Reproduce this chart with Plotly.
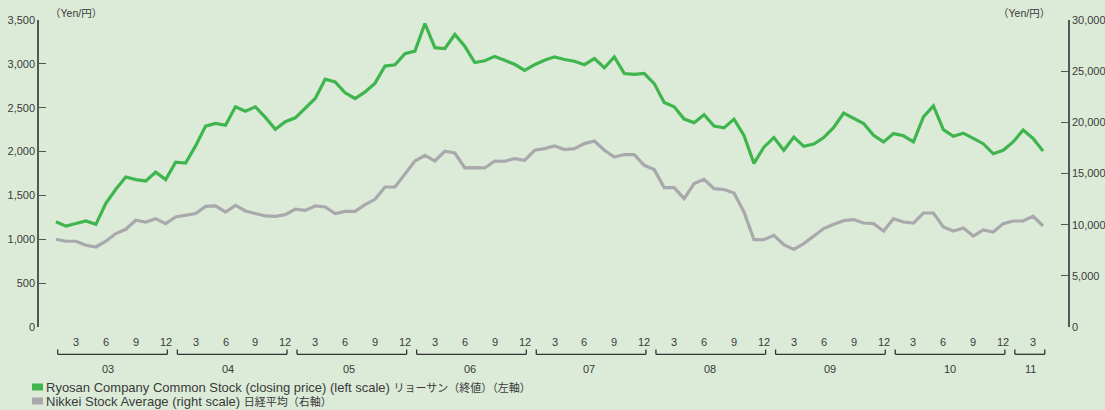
import plotly.graph_objects as go

# ---- data (monthly closes, Dec 2002 .. Mar 2011) ----
ryosan = [1200, 1150, 1180, 1210, 1170, 1410, 1570, 1710, 1680, 1665, 1765, 1680,
          1880, 1870, 2065, 2290, 2320, 2300, 2510, 2460, 2510, 2390, 2255, 2340,
          2385, 2500, 2605, 2825, 2795, 2670, 2605, 2680, 2780, 2975, 2990, 3115,
          3145, 3460, 3185, 3175, 3335, 3200, 3015, 3035, 3085, 3040, 2995, 2925,
          2990, 3040, 3080, 3050, 3030, 2990, 3060, 2955, 3080, 2890, 2880, 2890,
          2775, 2560, 2510, 2370, 2330, 2420, 2290, 2270, 2370, 2185, 1865, 2050,
          2160, 2015, 2165, 2060, 2085, 2160, 2275, 2440, 2380, 2320, 2185, 2110,
          2205, 2180, 2110, 2395, 2520, 2250, 2175, 2210, 2150, 2090, 1975, 2015,
          2110, 2245, 2150, 2005]

nikkei = [8570, 8380, 8380, 7990, 7820, 8380, 9130, 9550, 10430, 10260, 10590, 10100,
          10750, 10920, 11080, 11790, 11830, 11240, 11890, 11340, 11080, 10850, 10820, 10980,
          11520, 11400, 11830, 11730, 11080, 11300, 11300, 11960, 12480, 13680, 13680, 14990,
          16220, 16780, 16220, 17170, 17000, 15540, 15580, 15540, 16220, 16190, 16460, 16290,
          17270, 17430, 17690, 17340, 17430, 17920, 18180, 17270, 16610, 16850, 16850, 15800,
          15380, 13620, 13620, 12550, 14010, 14430, 13520, 13430, 13100, 11240, 8540, 8540,
          8960, 8050, 7590, 8150, 8860, 9620, 10040, 10390, 10500, 10160, 10100, 9380,
          10590, 10260, 10160, 11140, 11140, 9770, 9380, 9680, 8890, 9480, 9280, 10100,
          10360, 10360, 10820, 9870]

month_labels = ["3", "6", "9", "12"]
year_labels = ["03", "04", "05", "06", "07", "08", "09", "10", "11"]
year_label_pos = [5.2, 17.3, 29.4, 41.5, 53.5, 65.6, 77.6, 89.7, 97.7]
left_ticks = [0, 500, 1000, 1500, 2000, 2500, 3000, 3500]
right_ticks = [0, 5000, 10000, 15000, 20000, 25000, 30000]
series_en = ["Ryosan Company Common Stock (closing price) (left scale)",
             "Nikkei Stock Average (right scale)"]
series_ja = ["リョーサン（終値）（左軸）", "日経平均（右軸）"]
unit_label = "（Yen/円）"

# ---- styling ----
W, H = 1105, 410
ML, MR, MT, MB = 39, 37, 20, 83
PH = H - MT - MB
PW = W - ML - MR
BG = "#dcebd8"
GREEN = "#3fb54e"
GRAY = "#a9a8ad"
AX = "#555555"
TXT = "#3a3a3a"
FONT = "Liberation Sans, Arial, Noto Sans CJK JP, sans-serif"

x = list(range(len(ryosan)))


def py(p):  # pixel y -> paper
    return (H - MB - p) / PH


def px(p):  # pixel x -> paper
    return (p - ML) / PW


fig = go.Figure()
fig.add_trace(go.Scatter(x=x, y=nikkei, yaxis="y2", mode="lines",
                         line=dict(color=GRAY, width=3.2), showlegend=False,
                         name=series_en[1] + " " + series_ja[1]))
fig.add_trace(go.Scatter(x=x, y=ryosan, mode="lines",
                         line=dict(color=GREEN, width=3.2), showlegend=False,
                         name=series_en[0] + " " + series_ja[0]))

shapes = []
annotations = []

# month labels
n = len(ryosan)
for k in range(9):
    for j, m in enumerate(month_labels):
        pos = 12 * k + 3 * j + 2
        if pos >= n:
            continue
        annotations.append(dict(x=pos, y=0, xref="x", yref="paper", yshift=-14.5,
                                text=m, showarrow=False, xanchor="center", yanchor="middle",
                                font=dict(size=11, color=TXT, family=FONT)))
    # bracket
    x0 = 12 * k + 0.17
    x1 = min(12 * k + 11.17, n - 1 + 0.17)
    ylin = py(354.3)
    ytop = py(349.5)
    shapes.append(dict(type="line", xref="x", yref="paper", x0=x0, x1=x1, y0=ylin, y1=ylin,
                       line=dict(color="#333333", width=1.3)))
    for xx in (x0, x1):
        shapes.append(dict(type="line", xref="x", yref="paper", x0=xx, x1=xx, y0=ylin, y1=ytop,
                           line=dict(color="#333333", width=1.3)))
    annotations.append(dict(x=year_label_pos[k], y=py(369), xref="x", yref="paper",
                            text=year_labels[k], showarrow=False, xanchor="center", yanchor="middle",
                            font=dict(size=11, color=TXT, family=FONT)))

# unit labels
annotations.append(dict(x=px(76), y=py(13), xref="paper", yref="paper", text=unit_label,
                        showarrow=False, xanchor="center", yanchor="middle",
                        font=dict(size=10.5, color=TXT, family=FONT)))
annotations.append(dict(x=px(1024), y=py(13), xref="paper", yref="paper", text=unit_label,
                        showarrow=False, xanchor="center", yanchor="middle",
                        font=dict(size=10.5, color=TXT, family=FONT)))

# custom legend
for i, (col, yc) in enumerate([(GREEN, 387), (GRAY, 401)]):
    shapes.append(dict(type="rect", xref="paper", yref="paper",
                       x0=px(32), x1=px(43), y0=py(yc - 3.5), y1=py(yc + 3.5),
                       fillcolor=col, line=dict(width=0)))
    txt = series_en[i] + " " + '<span style="font-size:11px">' + series_ja[i] + "</span>"
    annotations.append(dict(x=px(44), y=py(yc), xref="paper", yref="paper",
                            text=txt, showarrow=False, xanchor="left", yanchor="middle",
                            font=dict(size=13, color=TXT, family=FONT)))

fig.update_layout(
    width=W, height=H,
    margin=dict(l=ML, r=MR, t=MT, b=MB, autoexpand=False),
    paper_bgcolor=BG, plot_bgcolor=BG,
    font=dict(family=FONT, color=TXT),
    showlegend=False,
    xaxis=dict(range=[-1.705, 101.5], showticklabels=False, showgrid=False, zeroline=False,
               showline=False, ticks="", automargin=False),
    yaxis=dict(range=[0, 3500], tickvals=left_ticks,
               ticktext=[f"{v:,}" for v in left_ticks],
               ticks="inside", ticklen=7, tickwidth=1.3, tickcolor=AX,
               showline=True, linecolor=AX, linewidth=1.5,
               showgrid=False, zeroline=False, automargin=False,
               tickfont=dict(size=11, color=TXT, family=FONT)),
    yaxis2=dict(range=[0, 30000], overlaying="y", side="right", tickvals=right_ticks,
                ticktext=[f"{v:,}" for v in right_ticks],
                ticks="inside", ticklen=7, tickwidth=1.3, tickcolor=AX,
                showline=True, linecolor=AX, linewidth=1.5,
                showgrid=False, zeroline=False, automargin=False,
                tickfont=dict(size=11, color=TXT, family=FONT)),
    shapes=shapes,
    annotations=annotations,
)

fig.write_html("out.html",
               config={"displayModeBar": False},
               post_script="document.body.style.margin='0px';document.body.style.padding='0px';"
                           "document.body.style.overflow='hidden';"
                           "document.body.style.background='" + BG + "';")
